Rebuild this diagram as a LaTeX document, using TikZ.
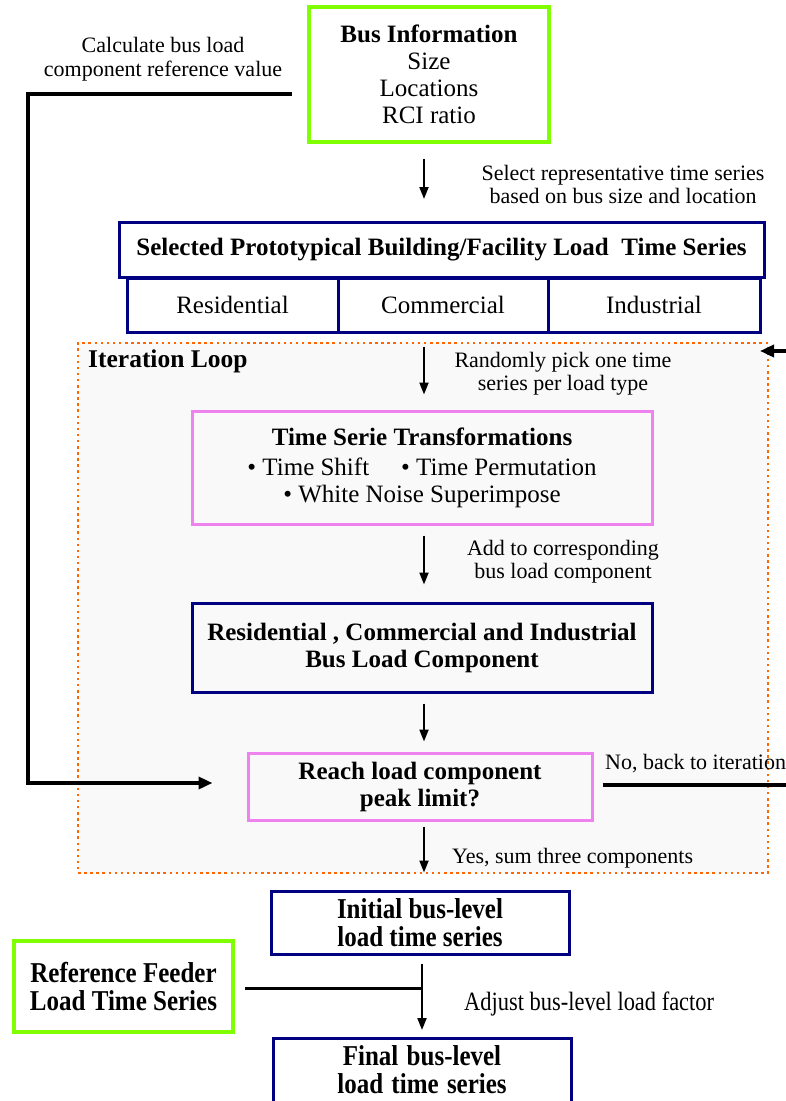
\documentclass[tikz,border=0pt]{standalone}
\usepackage{fontspec}
\setmainfont{Liberation Serif}
\usetikzlibrary{arrows.meta,calc}
\definecolor{lgreen}{RGB}{127,255,0}
\definecolor{navyb}{RGB}{0,0,128}
\definecolor{violetb}{RGB}{238,130,238}
\definecolor{orng}{RGB}{255,102,0}
\definecolor{loopfill}{RGB}{249,249,249}
\newcommand{\stretchtxt}[1]{\scalebox{1}[1.15]{#1}}
\tikzset{
  boxtext/.style={font=\fontsize{25}{27}\selectfont, align=center, inner sep=0pt},
  greenbox/.style={boxtext, draw=lgreen, line width=4.5pt},
  navybox/.style={boxtext, draw=navyb, line width=3pt},
  violetbox/.style={boxtext, draw=violetb, line width=3pt},
  lbl/.style={font=\fontsize{22}{23.5}\selectfont, align=center, inner sep=0pt},
  arr/.style={line width=2pt, -{Triangle[length=12pt,width=9pt]}},
  lp/.style={line width=3.5pt},
  lparr/.style={line width=3.5pt, -{Triangle[length=14pt,width=12pt]}},
  loopbox/.style={draw=orng, fill=loopfill, line width=2.5pt, dash pattern=on 2.5pt off 3.6pt},
}
\begin{document}
\begin{tikzpicture}[x=1pt,y=-1pt]
\useasboundingbox (0,0) rectangle (786,1101);
% iteration loop background
\node[loopbox, minimum width=690pt, minimum height=530pt, inner sep=0pt] (loop) at (423,608) {};
\node[lbl, font=\fontsize{25.5}{27}\selectfont\bfseries, anchor=west] (iter) at (88,361) {Iteration Loop};

% boxes
\node[greenbox, minimum width=240pt, minimum height=135pt] (bus) at (429,74.5)
  {\textbf{Bus Information}\\Size\\Locations\\RCI ratio};
\node[navybox, minimum width=645pt, minimum height=55pt] (sel) at (441.5,250)
  {\textbf{Selected Prototypical Building/Facility Load\ \ Time Series}};
\node[navybox, minimum width=211pt, minimum height=54pt] (res) at (232.5,305) {Residential};
\node[navybox, minimum width=210pt, minimum height=54pt] (com) at (443,305) {Commercial};
\node[navybox, minimum width=212pt, minimum height=54pt] (ind) at (654,305) {Industrial};
\node[violetbox, minimum width=460pt, minimum height=113pt] (trans) at (422,467.5)
  {\textbf{Time Serie Transformations}\\[3pt]%
   \textbullet\ Time Shift\hspace{32pt}\textbullet\ Time Permutation\\
   \textbullet\ White Noise Superimpose};
\node[navybox, minimum width=460pt, minimum height=89pt] (rci) at (422,647.5)
  {\textbf{Residential , Commercial and Industrial}\\\textbf{Bus Load Component}};
\node[violetbox, minimum width=344pt, minimum height=67pt] (reach) at (420,786.5)
  {\textbf{Reach load component}\\\textbf{peak limit?}};
\node[navybox, font=\fontsize{25}{28}\selectfont, minimum width=298pt, minimum height=63pt] (init) at (420,922.5)
  {\stretchtxt{\textbf{Initial bus-level}}\\\stretchtxt{\textbf{load time series}}};
\node[greenbox, font=\fontsize{25}{28}\selectfont, minimum width=219pt, minimum height=91pt] (ref) at (123.5,986.5)
  {\stretchtxt{\textbf{Reference Feeder}}\\\stretchtxt{\textbf{Load Time Series}}};
\node[navybox, font=\fontsize{25}{28}\selectfont, anchor=north, text width=298pt, inner xsep=0pt, inner ysep=7pt] (final) at (422,1037)
  {\stretchtxt{\textbf{Final bus-level}}\\\stretchtxt{\textbf{load time series}}\\[4pt]\mbox{}};

% labels
\node[lbl] (calc) at (163,59) {Calculate bus load\\component reference value};
\node[lbl] (sellbl) at (623,184.5) {Select representative time series\\based on bus size and location};
\node[lbl] (rand) at (563,373.5) {Randomly pick one time\\series per load type};
\node[lbl] (add) at (563,561.5) {Add to corresponding\\bus load component};
\node[lbl, anchor=west] (no) at (605,764) {No, back to iteration};
\node[lbl, anchor=west] (yes) at (452,858) {Yes, sum three components};
\node[lbl, anchor=west] (adj) at (464,1004) {\scalebox{1.02}[1.2]{Adjust bus-level load factor}};

% connector coordinates
\coordinate (sp) at (424,0);
\coordinate (c1) at (28,94);
\coordinate (c2) at (28,783);
\coordinate (r1) at (800,785);
\coordinate (r2) at (800,351);
\coordinate (r3) at (760,351);
\coordinate (j) at (422,988);

% connectors
\draw[arr, shorten <=15pt, shorten >=22pt] (bus.south -| sp) -- (sel.north -| sp);
\draw[arr, shorten <=13pt, shorten >=15pt] (com.south -| sp) -- (trans.north -| sp);
\draw[arr, shorten <=10pt, shorten >=17pt] (trans.south -| sp) -- (rci.north -| sp);
\draw[arr, shorten <=10pt, shorten >=10pt] (rci.south -| sp) -- (reach.north -| sp);
\draw[arr, shorten <=5pt, shorten >=17pt] (reach.south -| sp) -- (init.north -| sp);
\draw[arr, shorten <=8pt, shorten >=7pt] (init.south -| final.north) -- (final.north);
\draw[line width=3pt, shorten <=10pt] (ref.east |- j) -- (j);
\draw[lparr, shorten <=15pt, shorten >=34pt] (bus.west |- c1) -- (c1) -- (c2) -- (reach.west |- c2);
\draw[lp, shorten <=9pt] (reach.east |- r1) -- (r1);
\draw[lparr] (r2) -- (r3);
\end{tikzpicture}
\end{document}
